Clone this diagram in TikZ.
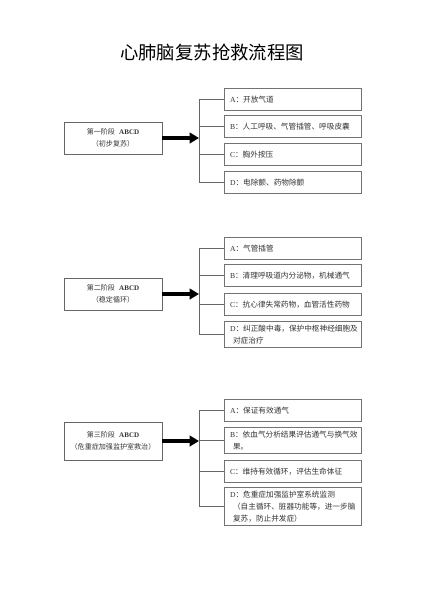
\documentclass[tikz,border=0pt]{standalone}
\usepackage{fontspec}
\setmainfont{Noto Sans CJK SC}
\newfontfamily\latin{Liberation Serif}
\usetikzlibrary{arrows.meta}
\newcommand{\ltr}[1]{{\latin #1}}
\begin{document}
\begin{tikzpicture}[x=0.85pt,y=-0.85pt,
    stage/.style={draw=black!60,line width=0.7pt,minimum width=83.3pt,minimum height=27.2pt,
      align=center,inner sep=2pt,text=black!80,font=\fontsize{6}{10}\selectfont},
    item/.style={draw=black!55,line width=0.7pt,anchor=north west,text width=107pt,
      inner xsep=4.75pt,inner ysep=3.2pt,minimum height=18.7pt,align=left,text=black!80,
      font=\fontsize{6.5}{10}\selectfont},
    link/.style={draw=black!60,line width=0.8pt},
    push/.style={line width=2.6pt,-{Triangle[length=8pt,width=9pt]}}]
  \useasboundingbox (0,0) rectangle (424,600);
  \draw
    (212,52) node (title){\fontsize{15.6}{18}\selectfont 心肺脑复苏抢救流程图}
    % first stage
    (113,138) node[stage] (s1){第一阶段\hspace{0.6em}\ltr{\bfseries ABCD}\\（初步复苏）}
    (224,88) node[item] (a1){\ltr{A}：开放气道}
    (224,115) node[item] (b1){\ltr{B}：人工呼吸、气管插管、呼吸皮囊}
    (224,143) node[item] (c1){\ltr{C}：胸外按压}
    (224,171) node[item] (d1){\ltr{D}：电除颤、药物除颤}
    % second stage
    (113,294) node[stage] (s2){第二阶段\hspace{0.6em}\ltr{\bfseries ABCD}\\（稳定循环）}
    (224,237) node[item] (a2){\ltr{A}：气管插管}
    (224,264) node[item] (b2){\ltr{B}：清理呼吸道内分泌物，机械通气}
    (224,293) node[item] (c2){\ltr{C}：抗心律失常药物，血管活性药物}
    (224,321) node[item] (d2){\ltr{D}：纠正酸中毒，保护中枢神经细胞及\\\hspace*{0.4em}对症治疗}
    % third stage
    (113,441) node[stage,minimum height=32.3pt] (s3){第三阶段\hspace{0.6em}\ltr{\bfseries ABCD}\\（危重症加强监护室救治）}
    (224,399) node[item] (a3){\ltr{A}：保证有效通气}
    (224,427) node[item] (b3){\ltr{B}：依血气分析结果评估通气与换气效\\\hspace*{0.4em}果。}
    (224,460) node[item] (c3){\ltr{C}：维持有效循环，评估生命体征}
    (224,487) node[item] (d3){\ltr{D}：危重症加强监护室系统监测\\\hspace*{0.4em}（自主循环、脏器功能等，进一步脑\\\hspace*{0.4em}复苏，防止并发症）};
  \coordinate (j1) at (199,138);
  \coordinate (j2) at (199,294);
  \coordinate (j3) at (199,441);
  \begin{scope}[link]
    \draw (a1.west -| j1) -- (d1.west -| j1);
    \draw (a1.west -| j1) -- (a1.west);
    \draw (b1.west -| j1) -- (b1.west);
    \draw (c1.west -| j1) -- (c1.west);
    \draw (d1.west -| j1) -- (d1.west);
    \draw (a2.west -| j2) -- (d2.west -| j2);
    \draw (a2.west -| j2) -- (a2.west);
    \draw (b2.west -| j2) -- (b2.west);
    \draw (c2.west -| j2) -- (c2.west);
    \draw (d2.west -| j2) -- (d2.west);
    \draw (a3.west -| j3) -- (d3.west -| j3);
    \draw (a3.west -| j3) -- (a3.west);
    \draw (b3.west -| j3) -- (b3.west);
    \draw (c3.west -| j3) -- (c3.west);
    \draw (d3.west -| j3) -- (d3.west);
  \end{scope}
  \begin{scope}[push]
    \draw (s1) -- (j1);
    \draw (s2) -- (j2);
    \draw (s3) -- (j3);
  \end{scope}
\end{tikzpicture}
\end{document}
